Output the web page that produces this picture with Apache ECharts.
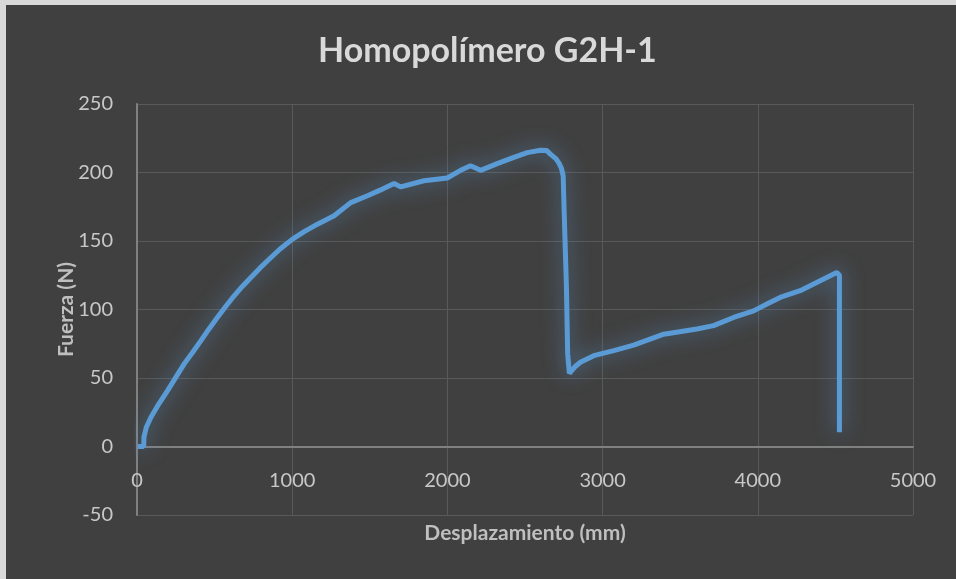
<!DOCTYPE html>
<html>
<head>
<meta charset="utf-8">
<script src="https://cdn.jsdelivr.net/npm/echarts@6/dist/echarts.min.js"></script>
<style>
  body { margin: 0; background: #d9d9d9; }
  #wrap { position: relative; width: 956px; height: 579px; background: #d9d9d9; }
  #chart { position: absolute; left: 6px; top: 5px; width: 950px; height: 574px; }
</style>
</head>
<body>
<div id="wrap"><div id="chart"></div></div>
<script>
// desplazamiento (mm) y fuerza (N)
var desplazamiento = [5, 43, 45, 60, 90, 140, 197, 250, 304, 360, 412, 465, 519, 570, 626, 680, 734, 790, 841, 920, 1002, 1080,
    1163, 1270, 1377, 1485, 1570, 1656, 1699, 1849, 1999, 2085, 2149, 2214, 2321, 2428, 2514, 2600, 2640,
    2664, 2700, 2718, 2735, 2746, 2754, 2767, 2775, 2786, 2820, 2857, 2943, 3072, 3200, 3394, 3608, 3715,
    3844, 3973, 4059, 4144, 4273, 4402, 4509, 4526, 4526];
var fuerza = [0, 0, 7, 14, 21.4, 31, 40.8, 50.5, 60.3, 69, 77.3, 86, 94.3, 102, 110, 117, 123.4, 130, 135.6, 144, 151.4, 157,
    162.3, 168.4, 178, 183, 187.3, 192, 189.5, 194, 196, 201.6, 205, 201.6, 206.5, 211, 214.5, 216.3, 216,
    213.4, 210, 207, 203, 197.5, 165, 116, 67.6, 53.4, 58, 61.5, 66.3, 70, 74, 82, 85.8, 88.2,
    94.2, 99, 104, 108.8, 113.7, 121, 127, 125, 10.4];
var xTicks = [0, 1000, 2000, 3000, 4000, 5000];
var yTicks = [-50, 0, 50, 100, 150, 200, 250];

var puntos = desplazamiento.map(function (x, i) { return [x, fuerza[i]]; });

var chart = echarts.init(document.getElementById('chart'));

var option = {
    backgroundColor: '#404040',
    animation: false,
    title: {
        text: 'Homopolímero G2H-1',
        left: 307,
        top: 24,
        textStyle: {
            color: '#d9d9d9',
            fontFamily: 'Lato',
            fontWeight: 'bold',
            fontSize: 34
        }
    },
    grid: {
        left: 131,
        right: 43,
        top: 99,
        bottom: 64,
        outerBoundsMode: 'none'
    },
    xAxis: {
        type: 'value',
        min: xTicks[0],
        max: xTicks[xTicks.length - 1],
        interval: 1000,
        // eje horizontal en y = 0 (como Excel), con etiquetas junto a la linea
        offset: -68,
        name: 'Desplazamiento (mm)',
        nameLocation: 'middle',
        nameGap: 76,
        nameMoveOverlap: false,
        nameTextStyle: {
            color: '#bfbfbf',
            fontFamily: 'Lato',
            fontWeight: 'bold',
            fontSize: 21
        },
        axisLine: {
            onZero: false,
            lineStyle: { color: '#808080', width: 2 }
        },
        axisTick: { show: false },
        axisLabel: {
            color: '#c8c8c8',
            fontFamily: 'Lato',
            fontSize: 20,
            margin: 24,
            formatter: function (v) { return String(v); }
        },
        splitLine: {
            show: true,
            lineStyle: { color: '#595959', width: 1 }
        }
    },
    yAxis: {
        type: 'value',
        min: yTicks[0],
        max: yTicks[yTicks.length - 1],
        interval: 50,
        name: 'Fuerza (N)',
        nameLocation: 'middle',
        nameGap: 60,
        nameRotate: 90,
        nameMoveOverlap: false,
        nameTextStyle: {
            color: '#bfbfbf',
            fontFamily: 'Lato',
            fontWeight: 'bold',
            fontSize: 21
        },
        axisLine: {
            show: true,
            onZero: false,
            lineStyle: { color: '#808080', width: 2 }
        },
        axisTick: { show: false },
        axisLabel: {
            color: '#c8c8c8',
            fontFamily: 'Lato',
            fontSize: 20,
            margin: 24
        },
        splitLine: {
            show: true,
            lineStyle: { color: '#595959', width: 1 }
        }
    },
    series: [{
        type: 'line',
        data: puntos,
        showSymbol: false,
        smooth: false,
        lineStyle: {
            color: '#5b9bd5',
            width: 5,
            shadowBlur: 20,
            shadowColor: 'rgba(91,155,213,0.7)'
        }
    }]
};

chart.setOption(option);
</script>
</body>
</html>
